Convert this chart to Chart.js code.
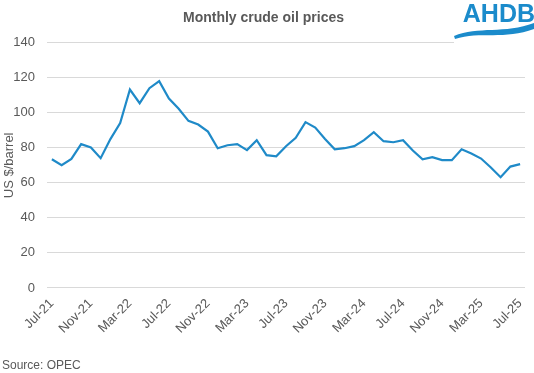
<!DOCTYPE html>
<html><head><meta charset="utf-8">
<script src="https://cdn.jsdelivr.net/npm/chart.js@4/dist/chart.umd.min.js"></script>
<style>html,body{margin:0;padding:0;background:#fff}#w{width:534px;height:373px}</style>
</head><body><div id="w"><canvas id="c"></canvas></div>
<script>
const months = ["Jul-21","Aug-21","Sep-21","Oct-21","Nov-21","Dec-21","Jan-22","Feb-22","Mar-22","Apr-22","May-22","Jun-22","Jul-22","Aug-22","Sep-22","Oct-22","Nov-22","Dec-22","Jan-23","Feb-23","Mar-23","Apr-23","May-23","Jun-23","Jul-23","Aug-23","Sep-23","Oct-23","Nov-23","Dec-23","Jan-24","Feb-24","Mar-24","Apr-24","May-24","Jun-24","Jul-24","Aug-24","Sep-24","Oct-24","Nov-24","Dec-24","Jan-25","Feb-25","Mar-25","Apr-25","May-25","Jun-25","Jul-25"];
const prices = [73.5,70.1,73.7,82.1,80.2,74.1,85.0,94.1,113.3,105.5,114.1,118.1,108.2,102.3,95.4,93.3,89.3,79.8,81.5,82.1,78.7,84.4,75.8,75.2,80.9,85.7,94.7,91.6,85.1,79.2,79.8,81.0,84.4,89.0,83.8,83.2,84.4,78.5,73.5,74.7,73.0,73.0,79.2,76.8,73.9,68.8,63.2,69.3,70.7];
const yTicks = [0,20,40,60,80,100,120,140];

const grey = '#595959';
const logo = {
  id:'logo',
  afterDraw(chart){
    const ctx = chart.ctx;
    ctx.save();
    ctx.fillStyle = '#ffffff';
    ctx.fillRect(454, 0, 80, 45);
    ctx.fillStyle = '#1b8bcb';
    ctx.font = 'bold 25px "Liberation Sans", Arial, sans-serif';
    ctx.textBaseline = 'alphabetic';
    ctx.textAlign = 'right';
    ctx.fillText('AHDB', 535, 22);
    ctx.beginPath();
    ctx.moveTo(454, 36);
    ctx.bezierCurveTo(478, 26, 505, 34, 534, 23);
    ctx.lineTo(534, 29);
    ctx.bezierCurveTo(505, 40, 480, 31, 455, 39);
    ctx.closePath();
    ctx.fill();
    ctx.restore();
  }
};

new Chart(document.getElementById('c'), {
  type:'line',
  data:{labels:months, datasets:[{data:prices, borderColor:'#1f8ac8', borderWidth:2.2, pointRadius:0, tension:0, fill:false}]},
  plugins:[logo],
  options:{
    responsive:true, maintainAspectRatio:false, animation:false,
    layout:{padding:{left:2,right:9,top:4,bottom:0}},
    plugins:{
      legend:{display:false}, tooltip:{enabled:false},
      title:{display:true, text:'Monthly crude oil prices', color:grey, font:{family:'"Liberation Sans", Arial', size:14, weight:'bold'}, padding:{top:6,bottom:16}},
      subtitle:{display:true, position:'bottom', align:'start', text:'Source: OPEC', color:grey, font:{family:'"Liberation Sans", Arial', size:12}, padding:{top:22,bottom:0}}
    },
    scales:{
      x:{offset:true, grid:{display:false}, border:{display:false},
        ticks:{autoSkip:false, maxRotation:45, minRotation:45, color:grey, font:{family:'"Liberation Sans", Arial', size:13}, padding:0,
          callback:function(v,i){return i%4===0?months[i]:'';}}},
      y:{min:0,max:140, afterBuildTicks:(a)=>{a.ticks=yTicks.map(v=>({value:v}));},
        afterFit:(s)=>{s.width=45;},
        grid:{color:'#d9d9d9', lineWidth:1, drawTicks:false}, border:{display:false},
        ticks:{color:grey, font:{family:'"Liberation Sans", Arial', size:13}, padding:12},
        title:{display:true, text:'US $/barrel', color:grey, font:{family:'"Liberation Sans", Arial', size:13}, padding:{top:0,bottom:0}}}
    }
  }
});
</script></body></html>
